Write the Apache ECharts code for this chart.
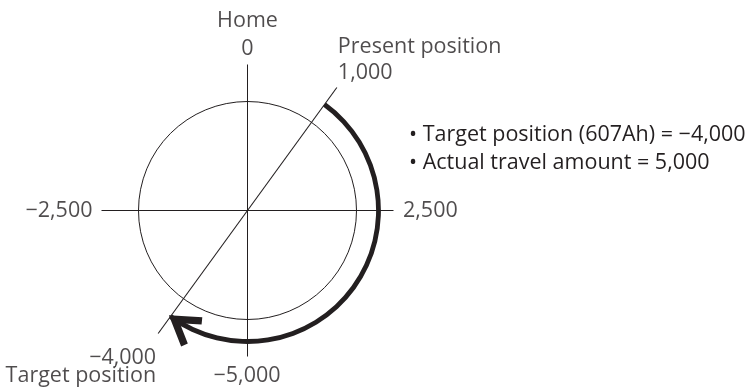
<!DOCTYPE html>
<html>
<head>
<meta charset="utf-8">
<script src="https://cdn.jsdelivr.net/npm/echarts@6/dist/echarts.min.js"></script>
<style>
html,body{margin:0;padding:0;background:#fff;}
#chart{width:753px;height:391px;}
</style>
</head>
<body>
<div id="chart"></div>
<script>
// ---- data ----
const revolution = 10000;                 // positions per revolution
const tickValues = [0, 2500, -5000, -2500];
const tickLabels = ['0', '2,500', '\u22125,000', '\u22122,500'];
const homeCaption = 'Home';
const presentPosition = 1000;
const presentLabel = '1,000';
const presentCaption = 'Present position';
const targetPosition = -4000;
const targetLabel = '\u22124,000';
const targetCaption = 'Target position';
const travelAmount = 5000;
const notes = ['\u2022 Target position (607Ah) = \u22124,000', '\u2022 Actual travel amount = 5,000'];

// ---- drawing ----
const ink = '#231f20';
const font = 'Open Sans';
const fs = 21.5;
const angleOf = v => ((v % revolution) + revolution) % revolution;

const CX = 247.5, CY = 210.5;
const axisR = 146, diagR = 152, arcR = 131;

function angleAxisBase(idx) {
  return {
    polarIndex: idx, type: 'value', min: 0, max: revolution, startAngle: 90, clockwise: true,
    axisLine: {show: false}, axisTick: {show: false}, axisLabel: {show: false},
    splitLine: {show: false}, splitArea: {show: false}
  };
}

const lineSeries = [];
[[tickValues[0], tickValues[2]], [tickValues[1], tickValues[3]]].forEach(pair => {
  lineSeries.push({
    type: 'line', coordinateSystem: 'polar', polarIndex: 0, symbol: 'none', silent: true,
    lineStyle: {color: ink, width: 1}, clip: false,
    data: pair.map(v => [axisR, angleOf(v)])
  });
});
lineSeries.push({
  type: 'line', coordinateSystem: 'polar', polarIndex: 0, symbol: 'none', silent: true,
  lineStyle: {color: ink, width: 1.1}, clip: false,
  data: [presentPosition, targetPosition].map(v => [diagR, angleOf(v)])
});

const txt = {fontFamily: font, fontSize: fs, color: ink};
function lab(text, pos, align) {
  return Object.assign({show: true, formatter: text, position: pos, align: align, verticalAlign: 'middle'}, txt);
}
const tickLayout = [
  {pos: [0.5, -15.5], align: 'center'},
  {pos: [10, 1], align: 'left'},
  {pos: [0, 19.5], align: 'center'},
  {pos: [-8.5, 1], align: 'right'}
];
const labelData = tickValues.map((v, i) => ({
  value: [axisR, angleOf(v)],
  label: lab(tickLabels[i], tickLayout[i].pos, tickLayout[i].align)
}));
labelData.push({value: [axisR, angleOf(tickValues[0])], label: lab(homeCaption, [0.5, -43.5], 'center')});
labelData.push({value: [diagR, angleOf(presentPosition)], label: lab(presentLabel, [1.5, -14.5], 'left')});
labelData.push({value: [diagR, angleOf(presentPosition)], label: lab(presentCaption, [1.5, -40], 'left')});
labelData.push({value: [diagR, angleOf(targetPosition)], label: lab(targetLabel, [-1.5, 24.5], 'right')});
labelData.push({value: [diagR, angleOf(targetPosition)], label: lab(targetCaption, [-1.5, 42.5], 'right')});

// chevron arrowhead, pointing up, tip at top
const arrowPath = 'path://M12 0 L24 20 L19.8 22.6 L12 9.6 L4.2 22.6 L0 20 Z';
const arrowScale = 1.5;
const theta = angleOf(targetPosition) / revolution * 2 * Math.PI;
const dirX = Math.cos(theta), dirY = Math.sin(theta);   // travel direction on screen at the end
const back = 11.3 * arrowScale - 3;                      // bbox centre behind the tip minus overshoot
const arrowOffset = [-back * dirX, -back * dirY];

const option = {
  animation: false,
  backgroundColor: '#ffffff',
  polar: [
    {center: [CX, CY], radius: 160},
    {center: [CX, CY], radius: [128.6, 133.4]},
    {center: [CX, CY], radius: 109}
  ],
  angleAxis: [
    angleAxisBase(0),
    angleAxisBase(1),
    Object.assign(angleAxisBase(2), {axisLine: {show: true, lineStyle: {color: ink, width: 1}}})
  ],
  radiusAxis: [
    {polarIndex: 0, type: 'value', min: 0, max: 160, axisLine: {show: false}, axisTick: {show: false}, axisLabel: {show: false}, splitLine: {show: false}},
    {polarIndex: 1, type: 'category', data: ['travel'], axisLine: {show: false}, axisTick: {show: false}, axisLabel: {show: false}, splitLine: {show: false}},
    {polarIndex: 2, type: 'value', min: 0, max: 1, axisLine: {show: false}, axisTick: {show: false}, axisLabel: {show: false}, splitLine: {show: false}}
  ],
  graphic: notes.map((t, i) => ({
    type: 'text', left: 409, top: [133.3, 161.7][i] - 9.8,
    style: {text: t, font: fs + 'px "' + font + '"', fill: ink}
  })),
  series: lineSeries.concat([
    {
      type: 'bar', coordinateSystem: 'polar', polarIndex: 1, stack: 'travel', barCategoryGap: '0%',
      itemStyle: {color: 'rgba(0,0,0,0)'}, silent: true,
      data: [angleOf(presentPosition)]
    },
    {
      type: 'bar', coordinateSystem: 'polar', polarIndex: 1, stack: 'travel', barCategoryGap: '0%',
      itemStyle: {color: ink}, silent: true,
      data: [travelAmount]
    },
    {
      type: 'scatter', coordinateSystem: 'polar', polarIndex: 0, silent: true, z: 5,
      symbol: arrowPath, symbolSize: [24 * arrowScale, 22.6 * arrowScale], symbolKeepAspect: true,
      symbolRotate: 270 - angleOf(targetPosition) / revolution * 360,
      symbolOffset: arrowOffset,
      itemStyle: {color: ink, opacity: 1},
      data: [[arcR, angleOf(targetPosition)]]
    },
    {
      type: 'scatter', coordinateSystem: 'polar', polarIndex: 0, silent: true,
      symbol: 'circle', symbolSize: 1, itemStyle: {color: 'rgba(0,0,0,0)'},
      data: labelData
    }
  ])
};

const chart = echarts.init(document.getElementById('chart'), null, {renderer: 'canvas'});
chart.setOption(option);
</script>
</body>
</html>
